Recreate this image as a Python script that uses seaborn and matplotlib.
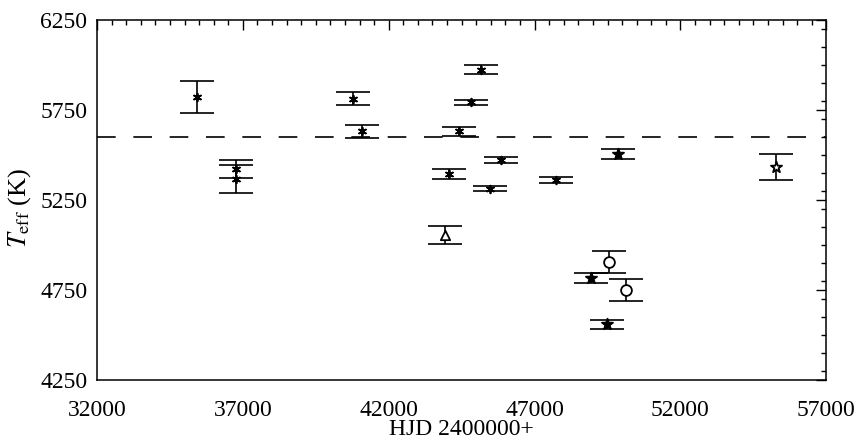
import numpy as np
import pandas as pd
import matplotlib
matplotlib.use("Agg")
import matplotlib.pyplot as plt
from matplotlib.ticker import MultipleLocator
import seaborn as sns

# Effective temperature estimates by epoch
hjd = [35430, 36780, 36780, 40780, 41100, 44410, 44810, 45160, 45850,
       44050, 45470, 47730, 43920, 49550, 48930, 49850, 55280, 50130, 49490]
teff = [5824, 5422, 5370, 5815, 5632, 5634, 5793, 5975, 5474,
        5395, 5315, 5362, 5057, 4907, 4818, 5505, 5435, 4751, 4561]
teff_err = [91, 49, 78, 35, 35, 25, 16, 25, 17,
            27, 16, 16, 50, 59, 26, 28, 72, 60, 26]
method = ["ast", "ast", "ast", "ast", "ast", "ast", "ast", "ast", "ast",
          "ast", "ast", "ast", "tri", "circ", "star", "star", "ostar", "circ", "star"]
mean_teff = 5600

x_ticks = [32000, 37000, 42000, 47000, 52000, 57000]
y_ticks = [4250, 4750, 5250, 5750, 6250]

df = pd.DataFrame({"hjd": hjd, "teff": teff, "err": teff_err, "method": method})

sns.set_theme(style="white")
plt.rcParams["font.family"] = ["Liberation Serif", "DejaVu Serif"]
plt.rcParams["mathtext.fontset"] = "stix"

fig = plt.figure(figsize=(8.56, 4.40), dpi=100)
ax = fig.add_axes([0.1133, 0.136, 0.852, 0.818])

ax.errorbar(df["hjd"], df["teff"], yerr=df["err"], fmt="none",
            ecolor="black", elinewidth=1.2, capsize=12, capthick=1.2, zorder=2)

marker_map = {"ast": (6, 2, 0), "tri": "^", "circ": "o", "star": "*", "ostar": "*"}
size_map = {"ast": 30, "tri": 45, "circ": 60, "star": 70, "ostar": 70}
face_map = {"ast": "black", "tri": "white", "circ": "white", "star": "black", "ostar": "white"}
for m, sub in df.groupby("method"):
    sns.scatterplot(data=sub, x="hjd", y="teff", marker=marker_map[m],
                    s=size_map[m], color=face_map[m], edgecolor="black",
                    linewidth=1.3, ax=ax, legend=False, zorder=3)

ax.axhline(mean_teff, color="black", lw=1.2, dashes=(11.2, 10.6), zorder=1)

ax.set_xlim(32000, 57000)
ax.set_ylim(4250, 6250)
ax.set_xticks(x_ticks)
ax.set_yticks(y_ticks)
ax.set_xticklabels([str(v) for v in x_ticks])
ax.set_yticklabels([str(v) for v in y_ticks])
ax.xaxis.set_minor_locator(MultipleLocator(500))
ax.yaxis.set_minor_locator(MultipleLocator(100))
ax.tick_params(which="both", direction="in", top=True, right=True,
               color="black", width=1.0, labelsize=17, labelcolor="black")
ax.tick_params(axis="x", which="both", pad=14)
ax.tick_params(axis="y", which="both", pad=7)
ax.tick_params(which="major", length=7)
ax.tick_params(which="minor", length=3.5)
for s in ax.spines.values():
    s.set_color("black")
    s.set_linewidth(1.1)

ax.set_xlabel("HJD 2400000+", fontsize=17, color="black")
ax.set_ylabel(r"$T_{\rm eff}$ (K)", fontsize=19, color="black")
ax.xaxis.set_label_coords(0.5, -0.107)
ax.yaxis.set_label_coords(-0.088, 0.478)

fig.savefig("out.png", dpi=100)
